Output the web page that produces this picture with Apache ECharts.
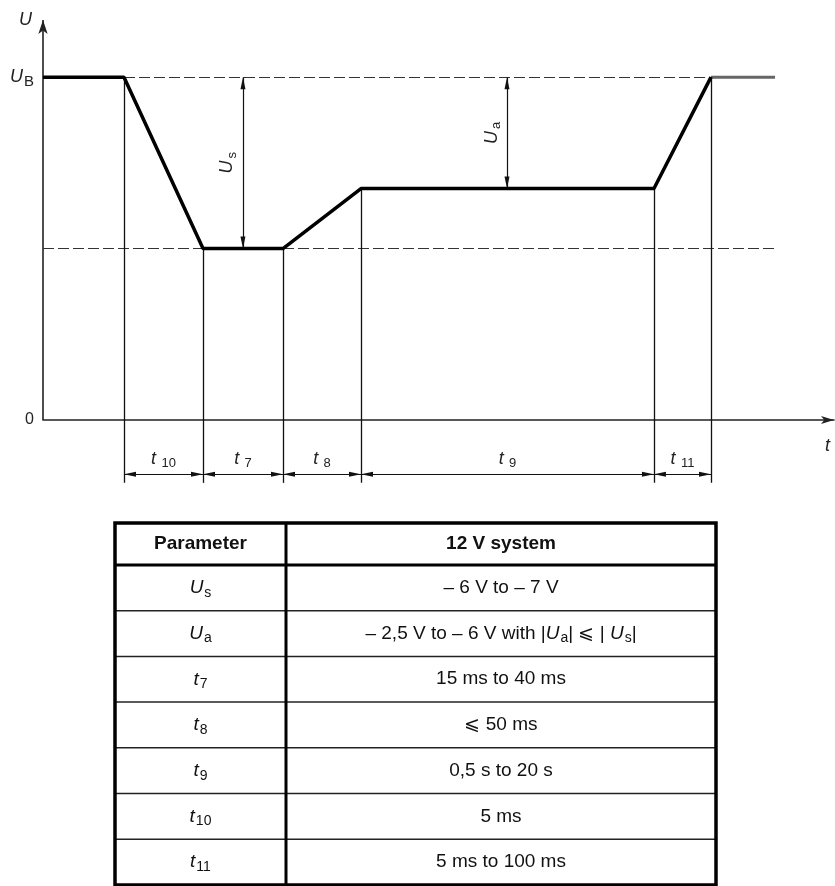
<!DOCTYPE html>
<html>
<head>
<meta charset="utf-8">
<title>Starting profile</title>
<script src="https://cdn.jsdelivr.net/npm/echarts@6/dist/echarts.min.js"></script>
<style>
  html, body { margin: 0; padding: 0; background: #fff; }
  #chart { width: 835px; height: 886px; }
</style>
</head>
<body>
<div id="chart"></div>
<script>
// waveform break points: time in drawing units, voltage with U_B = 12
var waveT = [0, 10.24, 20.23, 30.34, 40.2, 77.24, 84.45];
var waveU = [12, 12, 6, 6, 8.1, 8.1, 12];
var tailT = [84.45, 92.54];          // level after recovery
var phaseNames = ['10', '7', '8', '9', '11'];
var levelB = 12, levelS = 6, levelA = 8.1;
var arrowS = 25.28, arrowA = 58.66;  // x of the U_s and U_a dimension arrows
var dimY = -1.9, dropY = -2.2;       // dimension row and end of the drop lines

// table
var tableHead = ['Parameter', '12 V system'];
var paramNames = [['U', 's'], ['U', 'a'], ['t', '7'], ['t', '8'], ['t', '9'], ['t', '10'], ['t', '11']];
var paramValues = [
  '– 6 V to – 7 V',
  '– 2,5 V to – 6 V with |{i|U}{s|a}| ⩽ | {i|U}{s|s}|',
  '15 ms to 40 ms',
  '⩽ 50 ms',
  '0,5 s to 20 s',
  '5 ms',
  '5 ms to 100 ms'
];

var font = 'Liberation Sans';
function sub(base, s) { return '{i|' + base + '}{s|' + s + '}'; }

var richChart = {
  i: { fontStyle: 'italic', fontSize: 18, fontFamily: font, color: '#222' },
  s: { fontSize: 13, fontFamily: font, color: '#222', padding: [10, 0, 0, 2] },
  n: { fontSize: 16, fontFamily: font, color: '#222' }
};

var mychart = echarts.init(document.getElementById('chart'));

var wave = waveT.map(function (t, i) { return [t, waveU[i]]; });
var edges = waveT.slice(1);

// thin drop lines from the waveform down below the time axis
var drops = edges.map(function (x, i) {
  return [{ coord: [x, waveU[i + 1]] }, { coord: [x, dropY] }];
});

// t dimensions
var dims = phaseNames.map(function (n, i) {
  return [{ coord: [edges[i], dimY], name: n }, { coord: [edges[i + 1], dimY] }];
});
// voltage dimensions
dims.push([{ coord: [arrowS, levelS], name: 'Us' }, { coord: [arrowS, levelB] }]);
dims.push([{ coord: [arrowA, levelA], name: 'Ua' }, { coord: [arrowA, levelB] }]);

var option = {
  animation: false,
  backgroundColor: '#fff',
  grid: { left: 43, right: 1, top: 20, bottom: 400, containLabel: false },
  xAxis: {
    type: 'value', min: 0, max: 100,
    splitLine: { show: false },
    axisTick: { show: false },
    axisLabel: { show: false },
    axisLine: { onZero: true, symbol: ['none', 'arrow'], symbolSize: [6, 13], lineStyle: { color: '#222', width: 1.6 } },
    name: 't', nameLocation: 'end', nameGap: 0,
    nameTextStyle: { fontStyle: 'italic', fontSize: 18, fontFamily: font, color: '#222', align: 'right', verticalAlign: 'top', padding: [17, 4, 0, 0] }
  },
  yAxis: {
    type: 'value', min: -2.31, max: 14,
    splitLine: { show: false },
    axisTick: { show: false },
    axisLine: { show: false },
    axisLabel: {
      customValues: [0, levelB],
      margin: 9,
      formatter: function (v) { return v === 0 ? '{n|0}' : '{i|U}{s|B}'; },
      rich: {
        i: richChart.i,
        s: { fontSize: 15, fontFamily: font, color: '#222', padding: [10, 0, 0, 1] },
        n: richChart.n
      }
    },
    name: 'U', nameLocation: 'end', nameGap: 0,
    nameTextStyle: { fontStyle: 'italic', fontSize: 18, fontFamily: font, color: '#222', align: 'right', verticalAlign: 'middle', padding: [0, 11, 0, 0] }
  },
  series: [
    {
      name: 'voltage axis', type: 'line', data: [], silent: true,
      markLine: {
        silent: true, animation: false,
        symbol: ['none', 'arrow'], symbolSize: [7, 14],
        label: { show: false },
        lineStyle: { color: '#222', width: 1.6, type: 'solid' },
        data: [[{ coord: [0, 0] }, { coord: [0, 14] }]]
      }
    },
    {
      name: 'dashed levels', type: 'line', data: [], silent: true,
      markLine: {
        silent: true, symbol: 'none', animation: false,
        label: { show: false },
        lineStyle: { color: '#333', width: 1.2, type: [11, 4] },
        data: [
          [{ coord: [waveT[1], levelB] }, { coord: [waveT[6], levelB] }],
          [{ coord: [0, levelS] }, { coord: [tailT[1], levelS] }]
        ]
      }
    },
    {
      name: 'drops', type: 'line', data: [], silent: true,
      markLine: {
        silent: true, symbol: 'none', animation: false,
        label: { show: false },
        lineStyle: { color: '#111', width: 1.3, type: 'solid' },
        data: drops
      }
    },
    {
      name: 'dimensions', type: 'line', data: [], silent: true,
      markLine: {
        silent: true, animation: false,
        symbol: ['triangle', 'triangle'], symbolSize: [5, 12], symbolOffset: [[0, 6], [0, 6]],
        lineStyle: { color: '#111', width: 1.2, type: 'solid' },
        label: {
          show: true, position: 'insideMiddleTop', distance: 4,
          formatter: function (p) {
            if (p.name === 'Us') return sub('U', 's');
            if (p.name === 'Ua') return sub('U', 'a');
            return '{i|t} {s|' + p.name + '}';
          },
          rich: richChart
        },
        data: dims
      }
    },
    {
      name: 'U', type: 'line', data: wave, symbol: 'none', silent: true, z: 5,
      lineStyle: { color: '#000', width: 3.5 }
    },
    {
      name: 'U after', type: 'line', data: tailT.map(function (t) { return [t, levelB]; }), symbol: 'none', silent: true, z: 4,
      lineStyle: { color: '#666', width: 3 }
    }
  ]
};

// parameter table, drawn below the chart
var tbl = { left: 115, right: 716, col: 286, top: 523, headH: 42, rowH: 45.7 };
var nRows = paramNames.length;
var tblBottom = tbl.top + tbl.headH + nRows * tbl.rowH;
var richTable = {
  i: { fontStyle: 'italic', fontSize: 19, fontFamily: font, fill: '#111' },
  s: { fontSize: 14, fontFamily: font, fill: '#111', padding: [10, 0, 0, 1] }
};
var graphics = [];
for (var r = 1; r < nRows; r++) {
  var ly = tbl.top + tbl.headH + r * tbl.rowH;
  graphics.push({ type: 'line', shape: { x1: tbl.left, y1: ly, x2: tbl.right, y2: ly }, style: { stroke: '#222', lineWidth: 1.5 } });
}
graphics.push({ type: 'line', shape: { x1: tbl.left, y1: tbl.top + tbl.headH, x2: tbl.right, y2: tbl.top + tbl.headH }, style: { stroke: '#000', lineWidth: 3 } });
graphics.push({ type: 'line', shape: { x1: tbl.col, y1: tbl.top, x2: tbl.col, y2: tblBottom }, style: { stroke: '#000', lineWidth: 3 } });
graphics.push({ type: 'rect', shape: { x: tbl.left, y: tbl.top, width: tbl.right - tbl.left, height: tblBottom - tbl.top }, style: { fill: 'none', stroke: '#000', lineWidth: 3.5 } });

var c1 = (tbl.left + tbl.col) / 2, c2 = (tbl.col + tbl.right) / 2;
graphics.push({ type: 'text', x: c1, y: tbl.top + tbl.headH / 2, style: { text: tableHead[0], fontSize: 19, fontWeight: 'bold', fontFamily: font, fill: '#111', align: 'center', verticalAlign: 'middle' } });
graphics.push({ type: 'text', x: c2, y: tbl.top + tbl.headH / 2, style: { text: tableHead[1], fontSize: 19, fontWeight: 'bold', fontFamily: font, fill: '#111', align: 'center', verticalAlign: 'middle' } });
paramNames.forEach(function (p, i) {
  var cy = tbl.top + tbl.headH + (i + 0.5) * tbl.rowH;
  graphics.push({ type: 'text', x: c1, y: cy, style: { text: sub(p[0], p[1]), rich: richTable, fontSize: 19, fontFamily: font, fill: '#111', align: 'center', verticalAlign: 'middle' } });
  graphics.push({ type: 'text', x: c2, y: cy, style: { text: paramValues[i], rich: richTable, fontSize: 19, fontFamily: font, fill: '#111', align: 'center', verticalAlign: 'middle' } });
});
option.graphic = graphics;

mychart.setOption(option, true);
</script>
</body>
</html>
